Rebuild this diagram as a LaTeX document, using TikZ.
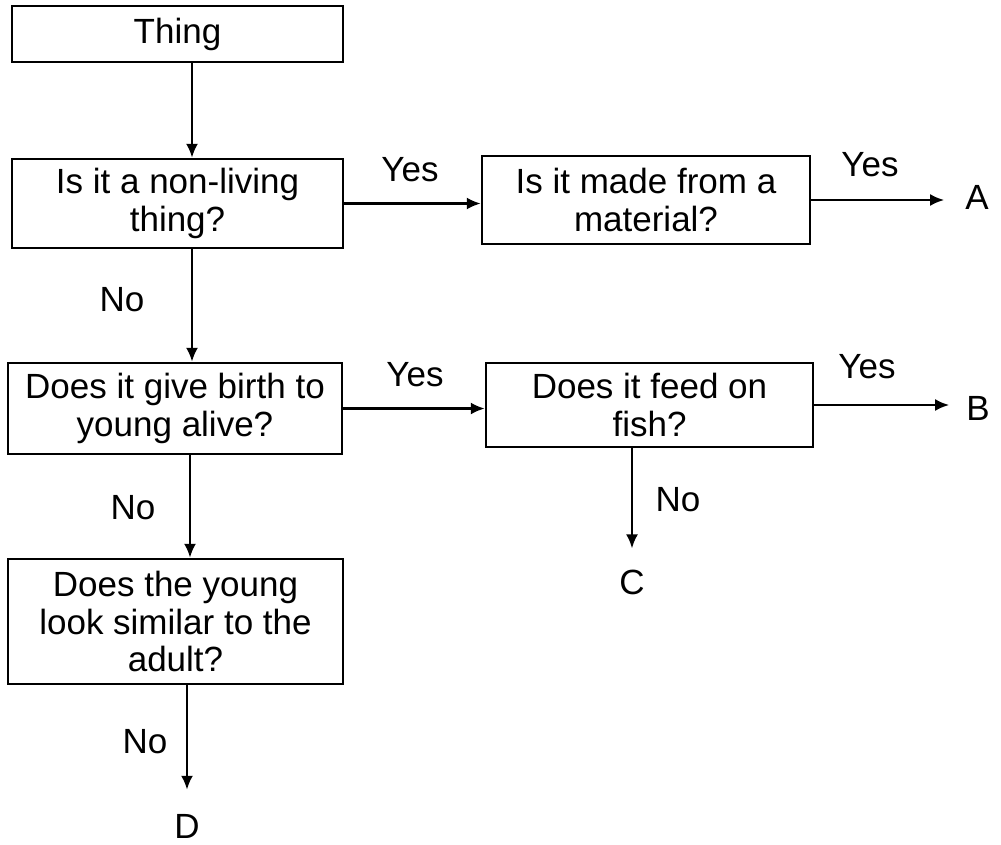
\documentclass[tikz,border=0pt]{standalone}
\usepackage{fontspec}
\setmainfont{Liberation Sans}
\usetikzlibrary{arrows.meta}
\begin{document}
\begin{tikzpicture}[x=1pt,y=-1pt,
  every node/.style={font=\fontsize{35}{37.5}\selectfont},
  qbox/.style={draw,line width=2.4pt,rectangle,align=center,inner sep=0pt},
  lbl/.style={inner sep=0pt},
  arr/.style={line width=2.4pt,-{Latex[length=14pt,width=12pt]}}]
\useasboundingbox (0,0) rectangle (1001,844);
% boxes
\node[qbox,minimum width=331pt,minimum height=56pt] (thing) at (177.5,34) {Thing};
\node[qbox,minimum width=331pt,minimum height=89pt] (living) at (177.5,203.5) {Is it a non-living\\thing?};
\node[qbox,minimum width=328pt,minimum height=88pt] (material) at (646,200) {Is it made from a\\material?};
\node[qbox,minimum width=334pt,minimum height=91pt] (birth) at (175,408.5) {Does it give birth to\\young alive?};
\node[qbox,minimum width=327pt,minimum height=84pt] (fish) at (649.5,405) {Does it feed on\\fish?};
\node[qbox,minimum width=335pt,minimum height=125pt] (young) at (175.5,621.5) {Does the young\\look similar to the\\adult?};
% labels
\node[lbl] (yes1) at (410,170) {Yes};
\node[lbl] (yes2) at (870,165) {Yes};
\node[lbl] (yes3) at (415,375) {Yes};
\node[lbl] (yes4) at (867,367) {Yes};
\node[lbl] (no1) at (122,300) {No};
\node[lbl] (no2) at (133,508) {No};
\node[lbl] (no3) at (678,500) {No};
\node[lbl] (no4) at (145,742) {No};
\node[lbl] (A) at (977,197) {A};
\node[lbl] (B) at (978,408) {B};
\node[lbl] (C) at (632,582) {C};
\node[lbl] (D) at (187,826) {D};
% connectors
\draw[arr] ([xshift=14.5pt]thing.south) -- ([xshift=14.5pt]thing.south |- living.north);
\draw[arr] ([xshift=14.5pt]living.south) -- ([xshift=14.5pt]living.south |- birth.north);
\draw[arr] ([xshift=15pt]birth.south) -- ([xshift=15pt]birth.south |- young.north);
\draw[arr,shorten >=24pt] (D.north |- young.south) -- (D.north);
\draw[arr] (living.east) -- (living.east -| material.west);
\draw[arr] (birth.east) -- (birth.east -| fish.west);
\draw[arr,shorten >=21pt] (material.east) -- (material.east -| A.west);
\draw[arr,shorten >=17pt] (fish.east) -- (fish.east -| B.west);
\draw[arr,shorten >=21pt] (C.north |- fish.south) -- (C.north);
\end{tikzpicture}
\end{document}
